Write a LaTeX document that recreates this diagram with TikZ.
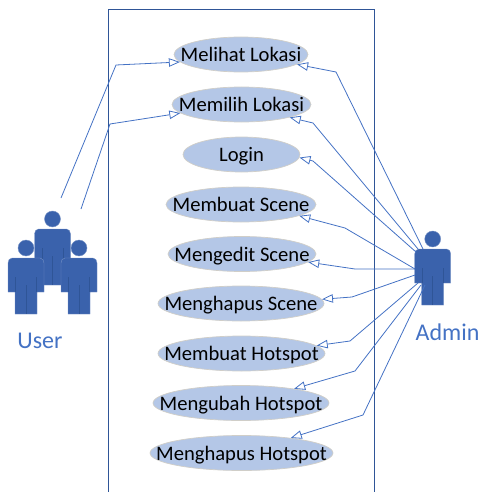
\documentclass[tikz,border=0pt]{standalone}
\usepackage{fontspec}
\setmainfont{Carlito}
\usetikzlibrary{arrows.meta,shapes.geometric}
\definecolor{linkblue}{HTML}{4472C4}
\definecolor{framecol}{HTML}{2F5597}
\definecolor{ellfill}{HTML}{B4C7E7}
\definecolor{ellline}{HTML}{D0CEC8}
\definecolor{personcol}{HTML}{3A62AC}
\definecolor{persondk}{HTML}{2F5597}
\tikzset{
  x=1pt,y=-1pt,
  usecase/.style={draw=ellline,line width=0.7pt,fill=ellfill,ellipse,inner sep=0pt,text=black,font=\fontsize{20.6}{22}\selectfont},
  link/.style={draw=linkblue,line width=0.8pt,-{Triangle[open,length=11pt,width=8.5pt,line width=0.8pt]}},
  rolelabel/.style={text=linkblue,font=\fontsize{24}{26}\selectfont,inner sep=0pt},
  person/.pic={
    \fill[personcol,draw=personcol!70!white,line width=0.4pt] (0,-20) circle (8);
    \fill[personcol,draw=personcol!70!white,line width=0.4pt] (-14,-10) -- (14,-10) to[out=0,in=90] (18,-5) -- (18,24) -- (11,24) -- (11,46) -- (-11,46) -- (-11,24) -- (-18,24) -- (-18,-5) to[out=90,in=180] cycle;
    \draw[persondk,line width=0.7pt] (-10.5,9) -- (-10.5,24) (10.5,9) -- (10.5,24) (0,17) -- (0,46);
  }
}
\newcommand{\uc}[5]{\node[usecase,minimum width=#4pt,minimum height=35pt] (#1) at (#2,#3) {\raisebox{-7pt}[0pt][0pt]{\makebox[0pt][c]{#5}}};}
\begin{document}
\begin{tikzpicture}[line join=miter]
\useasboundingbox (0,0) rectangle (481,492);
\draw[framecol,line width=0.8pt] (108.5,492) -- (108.5,9.5) -- (374,9.5) -- (374,492);
\uc{melihat}{241}{54.5}{134}{Melihat Lokasi}
\uc{memilih}{241.5}{104.5}{139}{Memilih Lokasi}
\uc{login}{241.5}{154.5}{117}{Login}
\uc{bscene}{241}{204.5}{150}{Membuat Scene}
\uc{escene}{242}{254}{148}{Mengedit Scene}
\uc{hscene}{241}{303.5}{166}{Menghapus Scene}
\uc{bhot}{241.5}{353.5}{167}{Membuat Hotspot}
\uc{uhot}{241}{403}{176}{Mengubah Hotspot}
\uc{hhot}{241.5}{453}{183}{Menghapus Hotspot}
\pic at (432.7,259) {person};
\pic at (52.5,239) {person};
\pic at (26,268) {person};
\pic at (79,268) {person};
\node[rolelabel] (userlabel) at (40,341) {User};
\node[rolelabel] (adminlabel) at (447.5,332) {Admin};
\coordinate (u1) at (61,198);
\coordinate (u2) at (81,209);
\coordinate (a1) at (423,249);
\coordinate (a2) at (418,249);
\coordinate (a3) at (416,252);
\coordinate (a4) at (415,269);
\coordinate (a5) at (415,269);
\coordinate (a6) at (415,275);
\coordinate (a7) at (418,283);
\coordinate (a8) at (421,285);
\coordinate (a9) at (425,285);
\draw[link] (u1) -- (116,65) -- (melihat.187);
\draw[link] (u2) -- (110,124) -- (memilih.188);
\draw[link] (a1) -- (336,72) -- (melihat.-10);
\draw[link] (a2) -- (313,123) -- (memilih.-15);
\draw[link] (a3) -- (313,161) -- (login.-3.6);
\draw[link] (a4) -- (345,228) -- (bscene.-11.6);
\draw[link] (a5) -- (355,269) -- (escene.-7);
\draw[link] (a6) -- (352,297) -- (hscene.3.9);
\draw[link] (a7) -- (350,341) -- (bhot.6.6);
\draw[link] (a8) -- (355,371) -- (uhot.15.6);
\draw[link] (a9) -- (363,415) -- (hhot.17.7);
\end{tikzpicture}
\end{document}
